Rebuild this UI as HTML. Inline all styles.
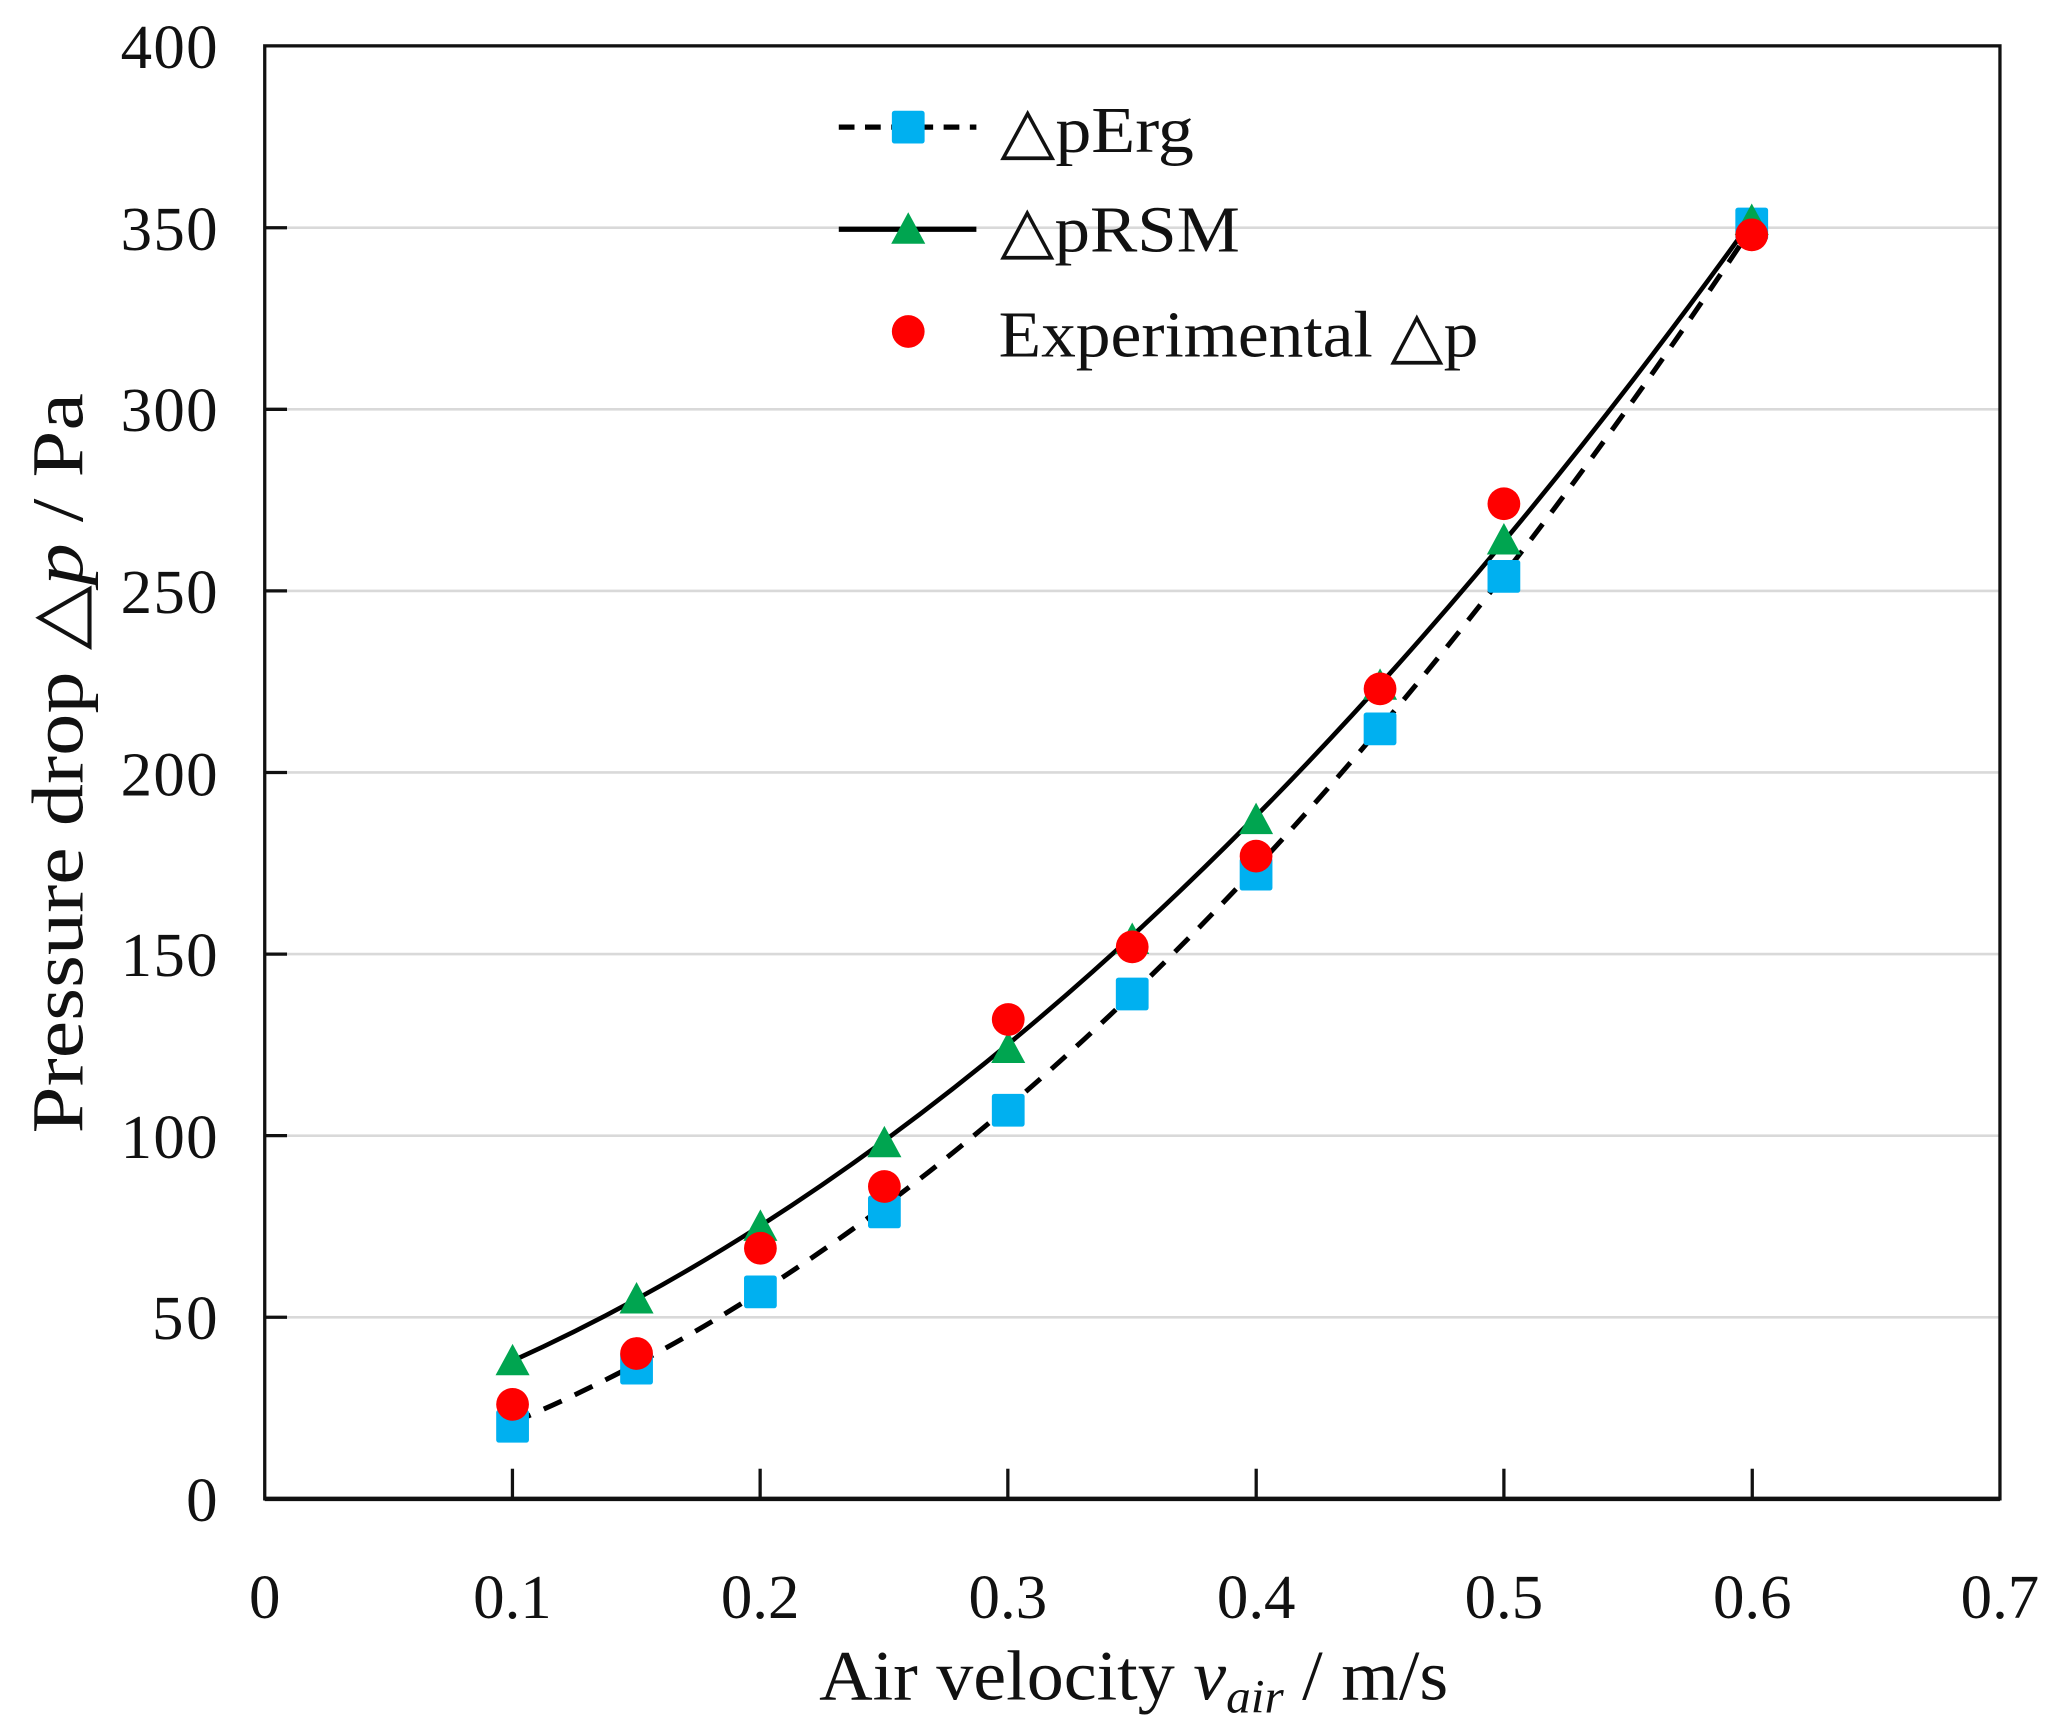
<!DOCTYPE html>
<html><head><meta charset="utf-8"><style>
html,body{margin:0;padding:0;background:#fff;}
svg{display:block;}
text{font-family:"Liberation Serif",serif;fill:#111;}
</style></head><body>
<svg width="2055" height="1736" viewBox="0 0 1568 1325" preserveAspectRatio="none">
<defs>
<g id="sq"><rect x="-12.5" y="-12.5" width="25" height="25" rx="2" fill="#00b0f0"/></g>
<g id="tr"><polygon points="0,-13 13,11 -13,11" fill="#00a550"/></g>
<g id="ci"><circle r="12.5" fill="#ff0000"/></g>
</defs>
<g stroke="#d9d9d9" stroke-width="2">
<line x1="202" x2="1526" y1="1005.4" y2="1005.4"/>
<line x1="202" x2="1526" y1="866.8" y2="866.8"/>
<line x1="202" x2="1526" y1="728.2" y2="728.2"/>
<line x1="202" x2="1526" y1="589.6" y2="589.6"/>
<line x1="202" x2="1526" y1="451" y2="451"/>
<line x1="202" x2="1526" y1="312.4" y2="312.4"/>
<line x1="202" x2="1526" y1="173.8" y2="173.8"/>
</g>
<g stroke="#111" stroke-width="2.5">
<line x1="202" x2="219" y1="1005.4" y2="1005.4"/>
<line x1="202" x2="219" y1="866.8" y2="866.8"/>
<line x1="202" x2="219" y1="728.2" y2="728.2"/>
<line x1="202" x2="219" y1="589.6" y2="589.6"/>
<line x1="202" x2="219" y1="451" y2="451"/>
<line x1="202" x2="219" y1="312.4" y2="312.4"/>
<line x1="202" x2="219" y1="173.8" y2="173.8"/>
<line x1="391" x2="391" y1="1144" y2="1121"/>
<line x1="580" x2="580" y1="1144" y2="1121"/>
<line x1="769" x2="769" y1="1144" y2="1121"/>
<line x1="958.5" x2="958.5" y1="1144" y2="1121"/>
<line x1="1147.5" x2="1147.5" y1="1144" y2="1121"/>
<line x1="1337" x2="1337" y1="1144" y2="1121"/>
</g>
<rect x="202" y="35" width="1324" height="1109" fill="none" stroke="#111" stroke-width="2.5"/>
<line x1="202" x2="1526" y1="1144" y2="1144" stroke="#111" stroke-width="3.5"/>
<path d="M391.1,1085.8 Q863.8,887.6 1336.6,173.8" fill="none" stroke="#000" stroke-width="3.8" stroke-dasharray="15,11"/>
<path d="M391.1,1038.7 Q863.8,825.2 1336.6,168.3" fill="none" stroke="#000" stroke-width="3.5"/>
<use href="#sq" x="391.1" y="1088.6"/><use href="#sq" x="485.7" y="1044.2"/><use href="#sq" x="580.2" y="986"/><use href="#sq" x="674.8" y="925"/><use href="#sq" x="769.3" y="847.4"/><use href="#sq" x="863.9" y="758.7"/><use href="#sq" x="958.4" y="667.2"/><use href="#sq" x="1053" y="556.3"/><use href="#sq" x="1147.5" y="439.9"/><use href="#sq" x="1336.6" y="171"/>
<use href="#tr" x="391.1" y="1038.7"/><use href="#tr" x="485.7" y="991.5"/><use href="#tr" x="580.2" y="936.1"/><use href="#tr" x="674.8" y="872.3"/><use href="#tr" x="769.3" y="800.3"/><use href="#tr" x="863.9" y="717.1"/><use href="#tr" x="958.4" y="625.6"/><use href="#tr" x="1053" y="523.1"/><use href="#tr" x="1147.5" y="412.2"/><use href="#tr" x="1336.6" y="168.3"/>
<use href="#ci" x="391.1" y="1071.9"/><use href="#ci" x="485.7" y="1033.1"/><use href="#ci" x="580.2" y="952.7"/><use href="#ci" x="674.8" y="905.6"/><use href="#ci" x="769.3" y="778.1"/><use href="#ci" x="863.9" y="722.7"/><use href="#ci" x="958.4" y="653.4"/><use href="#ci" x="1053" y="525.8"/><use href="#ci" x="1147.5" y="384.5"/><use href="#ci" x="1336.6" y="179.3"/>
<line x1="640" x2="745" y1="97" y2="97" stroke="#000" stroke-width="4" stroke-dasharray="12,8"/>
<use href="#sq" x="693" y="97"/>
<line x1="640" x2="745" y1="175" y2="175" stroke="#000" stroke-width="4"/>
<use href="#tr" x="693" y="175"/>
<use href="#ci" x="693" y="253"/>
<g font-size="50">
<text x="763" y="116" textLength="148" lengthAdjust="spacingAndGlyphs">△pErg</text>
<text x="763" y="192" textLength="183" lengthAdjust="spacingAndGlyphs">△pRSM</text>
<text x="762" y="272" textLength="366" lengthAdjust="spacingAndGlyphs">Experimental △p</text>
</g>
<g font-size="48" text-anchor="end">
<text x="166" y="1161">0</text>
<text x="166" y="1022" textLength="50" lengthAdjust="spacing">50</text>
<text x="166" y="884" textLength="74" lengthAdjust="spacing">100</text>
<text x="166" y="745" textLength="74" lengthAdjust="spacing">150</text>
<text x="166" y="607" textLength="74" lengthAdjust="spacing">200</text>
<text x="166" y="468" textLength="74" lengthAdjust="spacing">250</text>
<text x="166" y="329" textLength="74" lengthAdjust="spacing">300</text>
<text x="166" y="191" textLength="74" lengthAdjust="spacing">350</text>
<text x="166" y="52" textLength="74" lengthAdjust="spacing">400</text>
</g>
<g font-size="48" text-anchor="middle">
<text x="202" y="1235">0</text>
<text x="391" y="1235">0.1</text>
<text x="580" y="1235">0.2</text>
<text x="769" y="1235">0.3</text>
<text x="958.5" y="1235">0.4</text>
<text x="1147.5" y="1235">0.5</text>
<text x="1337" y="1235">0.6</text>
<text x="1526" y="1235">0.7</text>
</g>
<text x="625" y="1297" font-size="54" textLength="480" lengthAdjust="spacingAndGlyphs">Air velocity <tspan font-style="italic">v</tspan><tspan font-style="italic" font-size="36" dy="10">air</tspan><tspan dy="-10"> / m/s</tspan></text>
<text transform="translate(63,865) rotate(-90)" font-size="56" textLength="565" lengthAdjust="spacingAndGlyphs">Pressure drop △<tspan font-style="italic">p</tspan> / Pa</text>
</svg>
</body></html>
